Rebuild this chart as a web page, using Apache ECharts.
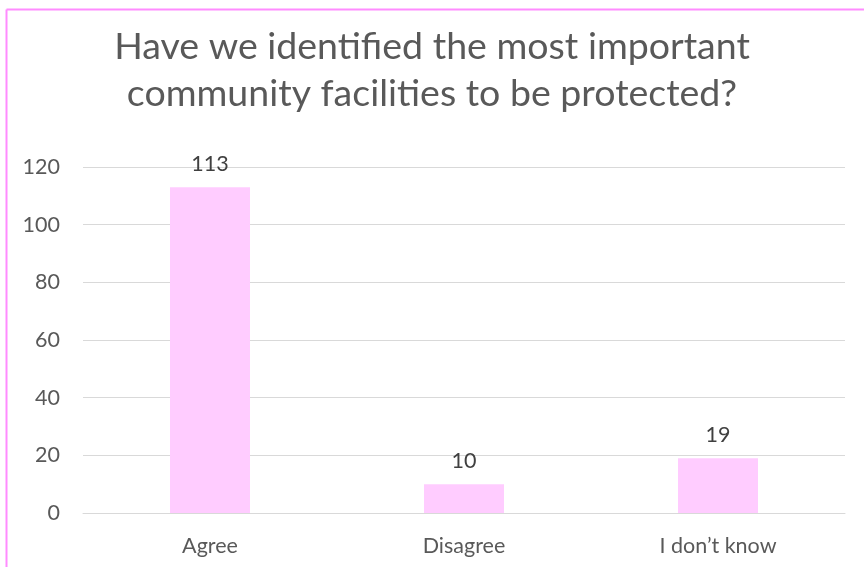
<!DOCTYPE html>
<html>
<head>
<meta charset="utf-8">
<script src="https://cdn.jsdelivr.net/npm/echarts@6/dist/echarts.min.js"></script>
<style>
  html, body { margin: 0; padding: 0; background: #fff; }
  #chart { width: 864px; height: 567px; }
</style>
</head>
<body>
<div id="chart"></div>
<script>
const titleText = 'Have we identified the most important\ncommunity facilities to be protected?';
const categories = ['Agree', 'Disagree', 'I don\u2019t know'];
const responses = [113, 10, 19];
const yTicks = { min: 0, max: 120, interval: 20 };

const chart = echarts.init(document.getElementById('chart'), null, { renderer: 'canvas' });
const font = 'Lato, "Open Sans", sans-serif';

chart.setOption({
  animation: false,
  textStyle: { fontFamily: font },
  title: {
    text: titleText,
    left: 'center',
    top: 18,
    textStyle: {
      fontFamily: font,
      fontSize: 37.5,
      fontWeight: 'normal',
      color: '#595959',
      lineHeight: 47
    }
  },
  // pink frame along the top and left edges
  graphic: [
    { type: 'line', shape: { x1: 6.5, y1: 9.5, x2: 864, y2: 9.5 }, style: { stroke: '#FF8CFF', lineWidth: 2 } },
    { type: 'line', shape: { x1: 6.5, y1: 9.5, x2: 6.5, y2: 567 }, style: { stroke: '#FF8CFF', lineWidth: 2 } }
  ],
  grid: { left: 83, right: 19, top: 167, bottom: 54, containLabel: false },
  xAxis: {
    type: 'category',
    data: categories,
    axisLine: { show: true, lineStyle: { color: '#D9D9D9', width: 1 } },
    axisTick: { show: false },
    axisLabel: { color: '#595959', fontSize: 21.5, margin: 22, fontFamily: font }
  },
  yAxis: {
    type: 'value',
    min: yTicks.min,
    max: yTicks.max,
    interval: yTicks.interval,
    axisLine: { show: false },
    axisTick: { show: false },
    axisLabel: { color: '#595959', fontSize: 21.5, margin: 23, align: 'right', fontFamily: font },
    splitLine: { lineStyle: { color: '#D9D9D9', width: 1 } }
  },
  series: [{
    type: 'bar',
    data: responses,
    barWidth: 80,
    itemStyle: { color: '#FFCCFF' },
    label: {
      show: true,
      position: 'top',
      distance: 12,
      color: '#404040',
      fontSize: 21.5,
      fontFamily: font
    }
  }]
});
</script>
</body>
</html>
